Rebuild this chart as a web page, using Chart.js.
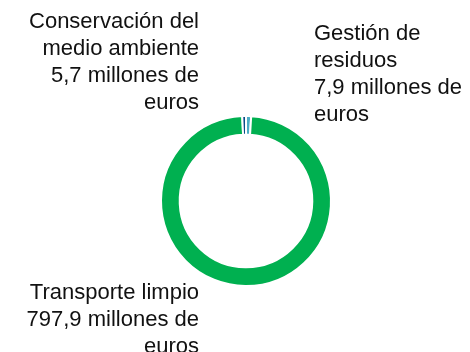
<!DOCTYPE html>
<html>
<head>
<meta charset="utf-8">
<script src="https://cdn.jsdelivr.net/npm/chart.js@4/dist/chart.umd.min.js"></script>
<style>
  html, body { margin: 0; padding: 0; background: #ffffff; }
  #wrap { position: relative; width: 470px; height: 352px; }
</style>
</head>
<body>
<div id="wrap"><canvas id="c" width="470" height="352"></canvas></div>
<script>
// Inversión por área (millones de euros)
const categories = ['Gestión de residuos', 'Transporte limpio', 'Conservación del medio ambiente'];
const values = [7.9, 797.9, 5.7];
const colors = ['#4bacc6', '#00b050', '#0b4a87'];

// Rótulos de cada sector, línea a línea
const labelLines = [
  ['Gestión de', 'residuos', '7,9 millones de', 'euros'],
  ['Transporte limpio', '797,9 millones de', 'euros'],
  ['Conservación del', 'medio ambiente', '5,7 millones de', 'euros']
];
const labelAnchors = [
  { x: 314, y: 40, align: 'left' },
  { x: 199, y: 299, align: 'right' },
  { x: 199, y: 28, align: 'right' }
];

const labelPlugin = {
  id: 'sectorLabels',
  afterDraw(chart) {
    const ctx = chart.ctx;
    ctx.save();
    ctx.fillStyle = '#111111';
    ctx.font = '22px "Liberation Sans", Arial, sans-serif';
    ctx.textBaseline = 'alphabetic';
    labelLines.forEach((lines, i) => {
      const a = labelAnchors[i];
      ctx.textAlign = a.align;
      lines.forEach((t, j) => ctx.fillText(t, a.x, a.y + j * 27));
    });
    ctx.restore();
  }
};

new Chart(document.getElementById('c'), {
  type: 'doughnut',
  data: {
    labels: categories,
    datasets: [{
      data: values,
      backgroundColor: colors,
      borderColor: '#ffffff',
      borderWidth: 2
    }]
  },
  options: {
    responsive: false,
    animation: false,
    cutout: '78%',
    layout: { padding: { left: 160, right: 138, top: 115, bottom: 65 } },
    plugins: {
      legend: { display: false },
      tooltip: { enabled: false }
    }
  },
  plugins: [labelPlugin]
});
</script>
</body>
</html>
